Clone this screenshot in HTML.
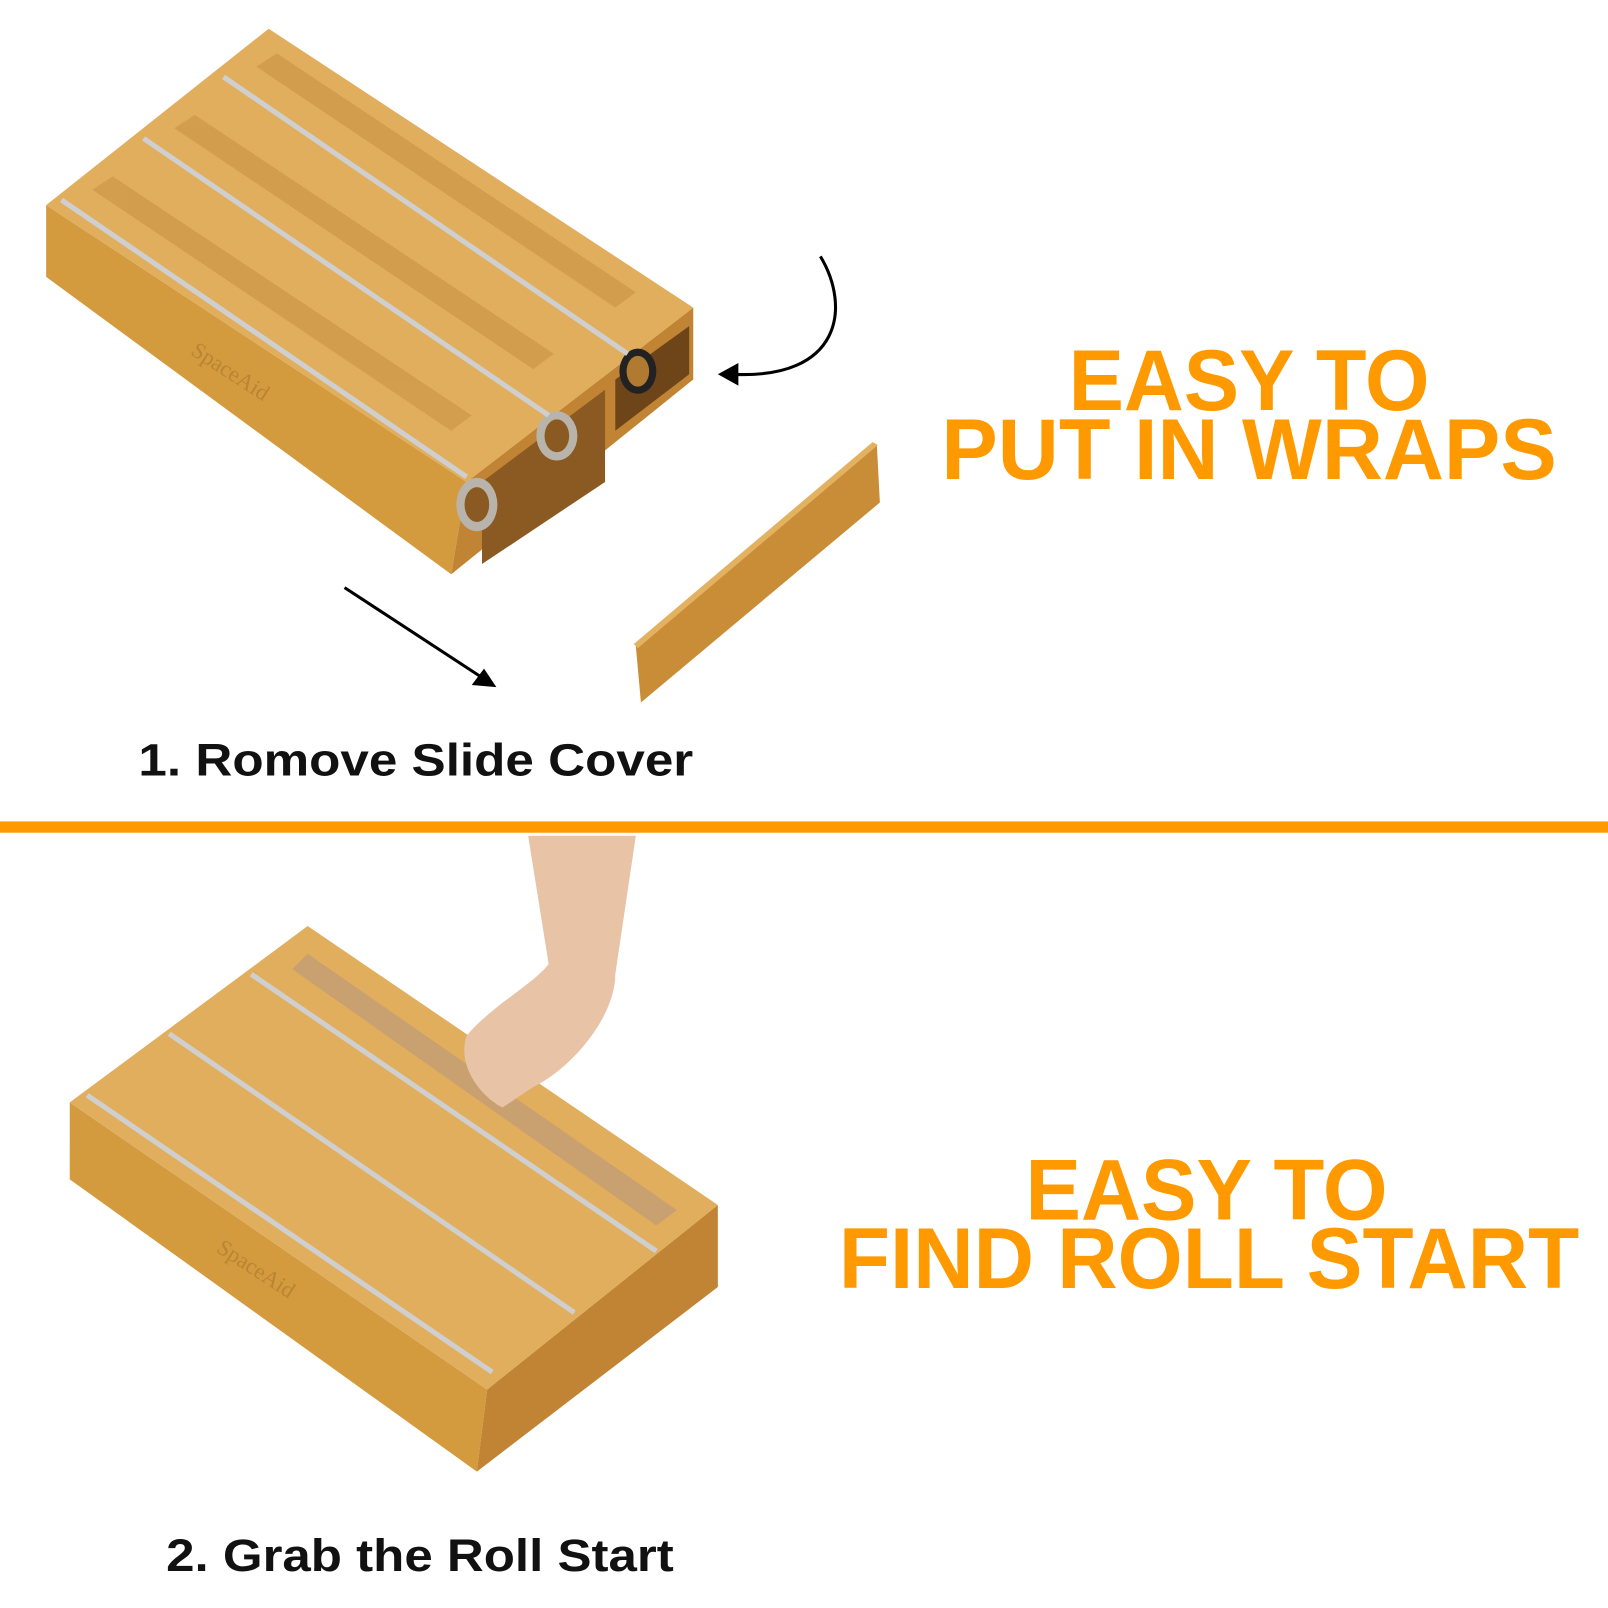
<!DOCTYPE html>
<html><head><meta charset="utf-8"><style>
html,body{margin:0;padding:0;background:#fff;}
svg{display:block;}
</style></head><body>
<svg width="1608" height="1608" viewBox="0 0 1568 1568" xmlns="http://www.w3.org/2000/svg">
<rect width="1568" height="1568" fill="#fff"/>
<!-- TOP BOX -->
<g stroke="none">
<polygon points="45,200 455,470 440,560 45,270" fill="#d49a3e"/>
<polygon points="455,470 676,300 676,370 440,560" fill="#c08434"/>
<polygon points="470,470 590,380 590,470 470,550" fill="#8a5a22"/>
<polygon points="600,370 672,318 672,365 600,420" fill="#6d4518"/>
<polygon points="262,28 676,300 455,470 45,200" fill="#e0ae5c"/>
<ellipse cx="465" cy="492" rx="20" ry="26" fill="#b8b4ac"/><ellipse cx="465" cy="492" rx="12" ry="17" fill="#8a5a22"/>
<ellipse cx="543" cy="425" rx="20" ry="24" fill="#b8b4ac"/><ellipse cx="543" cy="425" rx="12" ry="16" fill="#8a5a22"/>
<ellipse cx="622" cy="362" rx="18" ry="22" fill="#222"/><ellipse cx="622" cy="362" rx="11" ry="15" fill="#b07a30"/>
</g>
<g stroke="#cfcfcf" stroke-width="5" fill="none">
<line x1="60" y1="195" x2="455" y2="465"/>
<line x1="140" y1="135" x2="535" y2="405"/>
<line x1="218" y1="75" x2="612" y2="345"/>
</g>
<g fill="#c99446" opacity="0.6">
<polygon points="90,185 440,420 460,405 110,172"/>
<polygon points="170,125 520,360 540,345 190,112"/>
<polygon points="250,65 600,300 620,285 270,52"/>
</g>
<text x="185" y="345" font-family="Liberation Serif,serif" font-size="22" fill="#b98434" transform="rotate(33 185 345)">SpaceAid</text>
<!-- slide cover -->
<polygon points="620,630 855,433 858,490 625,685" fill="#c98d38"/>
<polygon points="618,628 851,431 856,434 622,632" fill="#e3b260"/>
<!-- arrows -->
<path d="M800,250 C830,300 820,370 715,365" stroke="#000" stroke-width="3" fill="none"/>
<polygon points="700,365 720,354 720,376" fill="#000"/>
<line x1="336" y1="573" x2="472" y2="662" stroke="#000" stroke-width="3"/>
<polygon points="484,670 460,668 472,652" fill="#000"/>
<!-- BOTTOM BOX -->
<polygon points="68,1075 475,1355 465,1435 68,1150" fill="#d49a3e"/>
<polygon points="475,1355 700,1175 700,1255 465,1435" fill="#c08434"/>
<polygon points="300,903 700,1175 475,1355 68,1075" fill="#e0ae5c"/>
<polygon points="285,945 640,1195 660,1180 300,930" fill="#c9a070"/>
<g stroke="#cfcfcf" stroke-width="5" fill="none">
<line x1="85" y1="1068" x2="480" y2="1338"/>
<line x1="165" y1="1008" x2="560" y2="1280"/>
<line x1="245" y1="950" x2="640" y2="1220"/>
</g>
<text x="210" y="1220" font-family="Liberation Serif,serif" font-size="22" fill="#b98434" transform="rotate(33 210 1220)">SpaceAid</text>
<!-- hand -->
<path d="M515,815 L620,815 L600,950 C600,990 560,1040 520,1060 L490,1080 C470,1070 445,1040 455,1010 C480,980 520,960 535,940 Z" fill="#e8c3a6"/>
<!-- divider -->
<rect x="0" y="801" width="1568" height="11" fill="#ff9900"/>
<!-- texts -->
<g font-family="Liberation Sans,sans-serif" font-weight="bold" fill="#ff9900" font-size="84">
<text x="1042" y="400" textLength="352" lengthAdjust="spacingAndGlyphs">EASY TO</text>
<text x="918" y="467" textLength="600" lengthAdjust="spacingAndGlyphs">PUT IN WRAPS</text>
<text x="1000" y="1189" textLength="353" lengthAdjust="spacingAndGlyphs">EASY TO</text>
<text x="818" y="1256" textLength="722" lengthAdjust="spacingAndGlyphs">FIND ROLL START</text>
</g>
<g font-family="Liberation Sans,sans-serif" font-weight="bold" fill="#111" font-size="44">
<text x="135" y="756" textLength="541" lengthAdjust="spacingAndGlyphs">1. Romove Slide Cover</text>
<text x="162" y="1532" textLength="495" lengthAdjust="spacingAndGlyphs">2. Grab the Roll Start</text>
</g>
</svg>
</body></html>
